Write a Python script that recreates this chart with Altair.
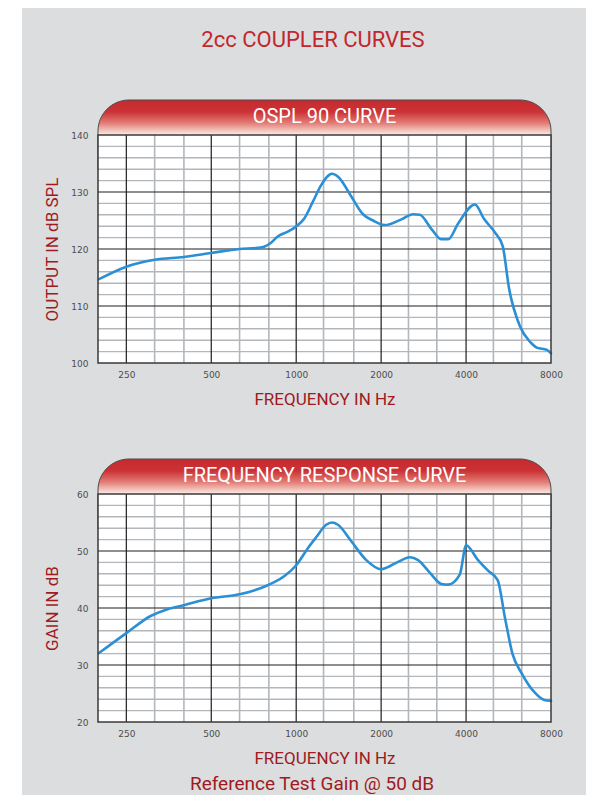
import altair as alt
import pandas as pd

W, H = 453, 228

# ---- data ----
ospl_freq = [200, 250, 315, 400, 500, 630, 730, 770, 810, 860, 930, 990, 1070, 1146, 1226,
             1339, 1413, 1568, 1725, 1872, 2059, 2360, 2597, 2742, 3017, 3274, 3458, 3754,
             4300, 4643, 5063, 5394, 5680, 6215, 6744, 7125, 7735, 8000]
ospl_db = [114.7, 116.9, 118.1, 118.6, 119.3, 120.0, 120.2, 120.4, 121.0, 122.2, 123.0, 123.8,
           125.4, 128.3, 131.2, 133.2, 132.6, 129.2, 126.1, 125.0, 124.2, 125.2, 126.1, 126.0,
           123.5, 121.7, 121.7, 124.5, 127.8, 125.2, 122.9, 120.5, 113.1, 106.4, 103.7, 102.7,
           102.3, 101.7]

gain_freq = [200, 250, 305, 350, 400, 500, 630, 793, 909, 1000, 1100, 1177, 1277, 1339, 1406,
             1568, 1772, 2000, 2297, 2526, 2705, 2975, 3274, 3458, 3803, 4000, 4396, 4797,
             5176, 5494, 5839, 6305, 7025, 7625, 8000]
gain_db = [32.1, 35.6, 38.6, 39.8, 40.5, 41.7, 42.4, 44.0, 45.6, 47.5, 50.5, 52.4, 54.6, 55.0,
           54.6, 51.7, 48.4, 46.8, 48.1, 48.9, 48.4, 46.2, 44.2, 44.1, 45.9, 51.0, 48.5, 46.5,
           44.9, 38.3, 32.0, 28.5, 25.1, 23.8, 23.7]

x_ticks = [250, 500, 1000, 2000, 4000, 8000]
x_major = [250, 500, 1000, 2000, 4000]
x_minor = [315, 400, 630, 800, 1250, 1600, 2500, 3150, 5000, 6300]

y1_ticks = [100, 110, 120, 130, 140]
y1_major = [110, 120, 130]
y1_minor = [102, 104, 106, 108, 112, 114, 116, 118, 122, 124, 126, 128, 132, 134, 136, 138]

y2_ticks = [20, 30, 40, 50, 60]
y2_major = [30, 40, 50]
y2_minor = [22, 24, 26, 28, 32, 34, 36, 38, 42, 44, 46, 48, 52, 54, 56, 58]

RED = "#c1272d"
DARKRED = "#9e1b21"
BLUE = "#2b8fd6"
GRID_MINOR = "#b3b6bb"
GRID_MAJOR = "#1e1e1e"
BORDER = "#3a3a3a"
BG = "#dcdddf"

one = alt.Data(values=[{}])


def panel(freqs, vals, ydom, yticks, ymajor, yminor, ytitle, tab_text, extra):
    xs = alt.Scale(type="log", domain=[198.4, 8000], nice=False)
    ys = alt.Scale(domain=ydom, nice=False, zero=False)
    xa = alt.Axis(values=x_ticks, format="d", title="FREQUENCY IN Hz", grid=False, ticks=False,
                  domain=False, labelFlush=False, labelPadding=7, labelFontSize=9,
                  labelColor="#4d4d4d", labelFont="DejaVu Sans", titleFont="Roboto",
                  titleFontSize=17, titleFontWeight="normal", titleColor=DARKRED,
                  titlePadding=12, zindex=1)
    ya = alt.Axis(values=yticks, title=ytitle, grid=False, ticks=False, domain=False,
                  labelFlush=False, labelPadding=10, labelFontSize=9, labelColor="#4d4d4d",
                  labelFont="DejaVu Sans", titleFont="Roboto", titleFontSize=17,
                  titleFontWeight="normal", titleColor=DARKRED, titlePadding=20,
                  minExtent=17, maxExtent=17, zindex=1)

    def X():
        return alt.X("f:Q", scale=xs, axis=xa)

    def Y():
        return alt.Y("v:Q", scale=ys, axis=ya)

    grad = alt.LinearGradient(
        gradient="linear", x1=0, x2=0, y1=0, y2=1,
        stops=[alt.GradientStop(color="#c62a2e", offset=0),
               alt.GradientStop(color="#cc3235", offset=0.17),
               alt.GradientStop(color="#e27d76", offset=0.33),
               alt.GradientStop(color="#fbeee6", offset=0.5),
               alt.GradientStop(color="#ffffff", offset=1)])

    tab = alt.Chart(one).mark_rect(fill=grad, stroke="#4a4a4a", strokeWidth=1,
                                   cornerRadiusTopLeft=31, cornerRadiusTopRight=31).encode(
        x=alt.value(0), x2=alt.value(W), y=alt.value(-35), y2=alt.value(35))
    cover = alt.Chart(one).mark_rect(fill="white").encode(
        x=alt.value(0), x2=alt.value(W), y=alt.value(0), y2=alt.value(H))

    xmin = alt.Chart(pd.DataFrame({"f": x_minor})).mark_rule(
        color=GRID_MINOR, strokeWidth=1.6).encode(x=X())
    ymin = alt.Chart(pd.DataFrame({"v": yminor})).mark_rule(
        color=GRID_MINOR, strokeWidth=1.4).encode(y=Y())
    xmaj = alt.Chart(pd.DataFrame({"f": x_major})).mark_rule(
        color=GRID_MAJOR, strokeWidth=1.2).encode(x=X())
    ymaj = alt.Chart(pd.DataFrame({"v": ymajor})).mark_rule(
        color=GRID_MAJOR, strokeWidth=1.2).encode(y=Y())

    line = alt.Chart(pd.DataFrame({"f": freqs, "v": vals})).mark_line(
        color=BLUE, strokeWidth=2.6, interpolate="monotone", strokeCap="round",
        strokeJoin="round").encode(x=X(), y=Y())

    border = alt.Chart(one).mark_rect(fill="white", fillOpacity=0, stroke=BORDER,
                                      strokeWidth=1.5).encode(
        x=alt.value(0), x2=alt.value(W), y=alt.value(0), y2=alt.value(H))

    tab_label = alt.Chart(one).mark_text(
        text=tab_text, font="Roboto", fontSize=20, color="white", align="center",
        baseline="middle").encode(x=alt.value(W / 2), y=alt.value(-18))

    layers = extra[0] + [tab, cover, xmin, ymin, xmaj, ymaj, line, border, tab_label] + extra[1]
    return alt.layer(*layers).properties(width=W, height=H)


bg = alt.Chart(one).mark_rect(fill=BG).encode(
    x=alt.value(-76), x2=alt.value(488), y=alt.value(-127), y2=alt.value(660))
main_title = alt.Chart(one).mark_text(
    text="2cc COUPLER CURVES", font="Roboto", fontSize=22, color=RED, align="center",
    baseline="middle").encode(x=alt.value(215), y=alt.value(-95))
footer = alt.Chart(one).mark_text(
    text="Reference Test Gain @ 50 dB", font="Roboto", fontSize=19, color=DARKRED,
    align="center", baseline="middle").encode(x=alt.value(214), y=alt.value(H + 62))

p1 = panel(ospl_freq, ospl_db, [100, 140], y1_ticks, y1_major, y1_minor,
           "OUTPUT IN dB SPL", "OSPL 90 CURVE", ([bg], [main_title]))
p2 = panel(gain_freq, gain_db, [20, 60], y2_ticks, y2_major, y2_minor,
           "GAIN IN dB", "FREQUENCY RESPONSE CURVE", ([], [footer]))

chart = alt.vconcat(p1, p2, spacing=131, bounds="flush").properties(
    padding={"left": 14, "top": 0, "right": 0, "bottom": 0},
    background="white",
).configure_view(strokeWidth=0)

chart.save("out.html", embed_options={"renderer": "svg", "actions": False})
